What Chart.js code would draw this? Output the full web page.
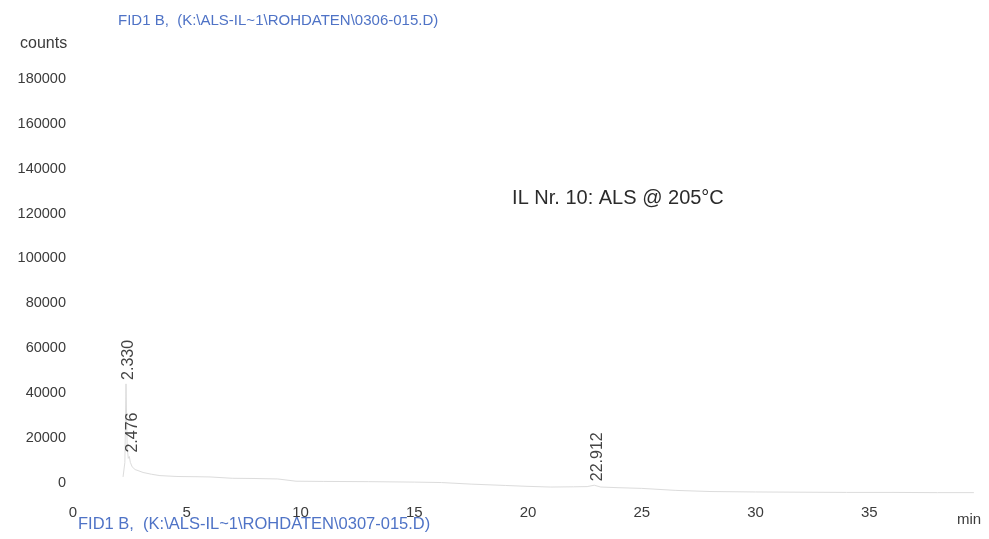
<!DOCTYPE html>
<html>
<head>
<meta charset="utf-8">
<title>FID1 B chromatogram</title>
<script src="https://cdn.jsdelivr.net/npm/chart.js@4.4.1/dist/chart.umd.min.js"></script>
<style>
  html, body { margin: 0; padding: 0; background: #ffffff; }
  #wrap { width: 989px; height: 539px; }
</style>
</head>
<body>
<div id="wrap"><canvas id="chrom" width="989" height="539"></canvas></div>
<script>
// Retention time (min) and detector signal (counts) of the FID trace
const retentionTimes = [2.20, 2.28, 2.33, 2.38, 2.43, 2.476, 2.52, 2.60, 2.73, 3.08, 3.45, 3.82, 4.57, 5.45, 6.02,
  7.0, 8.0, 9.0, 9.8, 11.0, 13.0, 15.0, 16.2, 17.5, 19.0, 20.0, 21.0, 22.0, 22.6, 22.912, 23.2,
  24.0, 25.0, 26.5, 28.0, 30.0, 32.0, 34.0, 36.0, 38.0, 39.6];
const signalCounts = [2500, 9000, 44000, 16000, 10800, 11600, 9000, 7000, 5800, 4500, 3700, 3100, 2700, 2600, 2500,
  1900, 1800, 1600, 600, 500, 400, 200, 0, -700, -1300, -1700, -2000, -1900, -1800, -1200, -2000,
  -2300, -2600, -3500, -4000, -4200, -4300, -4400, -4400, -4500, -4500];

// Integrated peaks: apex time and apex height
const peakTimes = [2.330, 2.476, 22.912];
const peakCounts = [44000, 11600, -1200];

// Axis ticks
const xTickValues = [0, 5, 10, 15, 20, 25, 30, 35];
const yTickValues = [0, 20000, 40000, 60000, 80000, 100000, 120000, 140000, 160000, 180000];

const signalName = 'FID1 B,  (K:\\ALS-IL~1\\ROHDATEN\\0306-015.D)';
const overlayName = 'FID1 B,  (K:\\ALS-IL~1\\ROHDATEN\\0307-015.D)';
const sampleNote = 'IL Nr. 10: ALS @ 205°C';

const FONT = '"Liberation Sans", Arial, Helvetica, sans-serif';
const BLUE = '#4f73c6';
const INK = '#3b3b3b';

const points = retentionTimes.map((t, i) => ({ x: t, y: signalCounts[i] }));

const paperPlugin = {
  id: 'paper',
  beforeDraw(chart) {
    const ctx = chart.ctx;
    ctx.save();
    ctx.fillStyle = '#ffffff';
    ctx.fillRect(0, 0, chart.width, chart.height);
    ctx.restore();
  },
  afterDraw(chart) {
    const ctx = chart.ctx;
    const xs = chart.scales.x, ys = chart.scales.y;
    const area = chart.chartArea;
    ctx.save();

    // signal file names
    ctx.fillStyle = BLUE;
    ctx.textAlign = 'left';
    ctx.textBaseline = 'middle';
    ctx.font = '15px ' + FONT;
    ctx.fillText(signalName, 118, 21);
    ctx.font = '16.5px ' + FONT;
    ctx.fillText(overlayName, 78, 524);

    // axis units
    ctx.fillStyle = INK;
    ctx.font = '16px ' + FONT;
    ctx.fillText('counts', 20, 44);
    ctx.font = '15px ' + FONT;
    ctx.textAlign = 'center';
    ctx.fillText('min', area.right - 14, 520);

    // sample annotation
    ctx.font = '20px ' + FONT;
    ctx.textAlign = 'left';
    ctx.fillStyle = '#2b2b2b';
    ctx.fillText(sampleNote, xs.getPixelForValue(19.3), ys.getPixelForValue(126500));

    // retention-time labels above each apex
    ctx.font = '16px ' + FONT;
    ctx.fillStyle = '#444444';
    peakTimes.forEach((t, i) => {
      const px = xs.getPixelForValue(t);
      const py = ys.getPixelForValue(peakCounts[i]);
      ctx.save();
      ctx.translate(px + 3, py - 4);
      ctx.rotate(-Math.PI / 2);
      ctx.textAlign = 'left';
      ctx.textBaseline = 'middle';
      ctx.fillText(t.toFixed(3), 0, 0);
      ctx.restore();
    });
    ctx.restore();
  }
};

new Chart(document.getElementById('chrom'), {
  type: 'line',
  data: {
    datasets: [{
      label: 'FID1 B',
      data: points,
      borderColor: '#dcdcdc',
      borderWidth: 1,
      pointRadius: 0,
      tension: 0,
      fill: false
    }]
  },
  options: {
    responsive: false,
    animation: false,
    devicePixelRatio: 1,
    parsing: false,
    layout: { padding: { top: 79, right: 6, left: 0, bottom: 0 } },
    plugins: { legend: { display: false }, tooltip: { enabled: false }, title: { display: false } },
    scales: {
      x: {
        type: 'linear',
        min: 0,
        max: 40,
        grid: { display: false, drawTicks: false },
        border: { display: false },
        afterBuildTicks(scale) { scale.ticks = xTickValues.map(v => ({ value: v })); },
        afterFit(scale) { scale.height = 43; },
        ticks: {
          padding: 8,
          maxRotation: 0,
          autoSkip: false,
          color: INK,
          font: { family: FONT, size: 15 },
          callback: v => String(v)
        }
      },
      y: {
        type: 'linear',
        min: -6000,
        max: 180000,
        grid: { display: false, drawTicks: false },
        border: { display: false },
        afterBuildTicks(scale) { scale.ticks = yTickValues.map(v => ({ value: v })); },
        afterFit(scale) { scale.width = 73; },
        ticks: {
          padding: 7,
          autoSkip: false,
          color: INK,
          font: { family: FONT, size: 14.5 },
          callback: v => String(v)
        }
      }
    }
  },
  plugins: [paperPlugin]
});
</script>
</body>
</html>
